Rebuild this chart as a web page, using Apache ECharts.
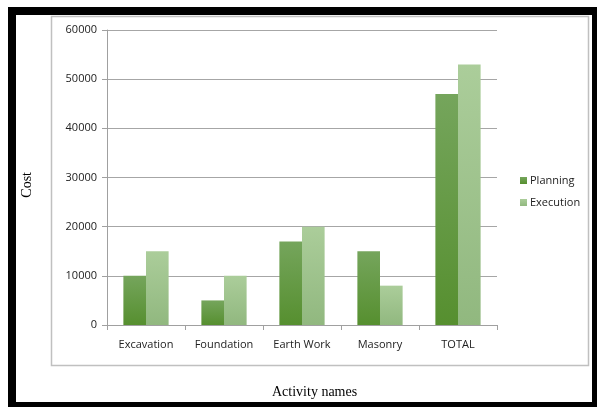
<!DOCTYPE html>
<html>
<head>
<meta charset="utf-8">
<script src="https://cdn.jsdelivr.net/npm/echarts@6/dist/echarts.min.js"></script>
<style>
html,body{margin:0;padding:0;background:#fff;}
#c{width:597px;height:407px;}
</style>
</head>
<body>
<div id="c"></div>
<script>
const categories = ['Excavation', 'Foundation', 'Earth Work', 'Masonry', 'TOTAL'];
const planning = [10000, 5000, 17000, 15000, 47000];
const execution = [15000, 10000, 20000, 8000, 53000];
const yTicks = { min: 0, max: 60000, interval: 10000 };

const chart = echarts.init(document.getElementById('c'), null, { renderer: 'canvas' });
const grad = (a, b) => new echarts.graphic.LinearGradient(0, 0, 0, 1, [
  { offset: 0, color: a }, { offset: 1, color: b }
]);
chart.setOption({
  animation: false,
  backgroundColor: '#fff',
  textStyle: { fontFamily: 'Open Sans' },
  graphic: [
    { type: 'rect', shape: { x: 8, y: 7, width: 589, height: 8 }, style: { fill: '#000' }, silent: true },
    { type: 'rect', shape: { x: 8, y: 7, width: 8, height: 400 }, style: { fill: '#000' }, silent: true },
    { type: 'rect', shape: { x: 592, y: 7, width: 5, height: 400 }, style: { fill: '#000' }, silent: true },
    { type: 'rect', shape: { x: 8, y: 402, width: 589, height: 5 }, style: { fill: '#000' }, silent: true },
    { type: 'rect', shape: { x: 51.5, y: 16.5, width: 537, height: 349 }, style: { fill: 'none', stroke: '#c0c0c0', lineWidth: 1.5 }, silent: true },
    { type: 'text', left: 20, top: 172, rotation: Math.PI / 2, style: { text: 'Cost', font: '14px "Liberation Serif"', fill: '#000' } },
    { type: 'text', left: 272, top: 385, style: { text: 'Activity names', font: '14px "Liberation Serif"', fill: '#000' } }
  ],
  legend: {
    orient: 'vertical',
    left: 515,
    top: 170,
    itemWidth: 7,
    itemHeight: 7,
    itemGap: 11,
    icon: 'rect',
    textStyle: { fontSize: 11, color: '#222', fontFamily: 'Open Sans', padding: [0, 0, 0, -2] },
    data: ['Planning', 'Execution']
  },
  grid: { left: 107, top: 30, right: 100, bottom: 82, containLabel: false },
  xAxis: {
    type: 'category',
    data: categories,
    axisLine: { lineStyle: { color: '#a0a0a0', width: 1 } },
    axisTick: { show: true, length: 5, lineStyle: { color: '#a0a0a0' } },
    axisLabel: { color: '#222', fontSize: 11, margin: 14, fontFamily: 'Open Sans' }
  },
  yAxis: {
    type: 'value',
    min: yTicks.min, max: yTicks.max, interval: yTicks.interval,
    axisLine: { show: true, lineStyle: { color: '#a0a0a0', width: 1 } },
    axisTick: { show: true, length: 5, lineStyle: { color: '#a0a0a0' } },
    axisLabel: { color: '#222', fontSize: 11, margin: 10, fontFamily: 'Open Sans', formatter: v => String(v) },
    splitLine: { lineStyle: { color: '#a6a6a6', width: 1 } }
  },
  series: [
    {
      name: 'Planning', type: 'bar', data: planning,
      barGap: '0%', barCategoryGap: '42%',
      itemStyle: { color: grad('#75a55c', '#568f2f') }
    },
    {
      name: 'Execution', type: 'bar', data: execution,
      itemStyle: { color: grad('#abcd9a', '#91b87f') }
    }
  ]
});
</script>
</body>
</html>
